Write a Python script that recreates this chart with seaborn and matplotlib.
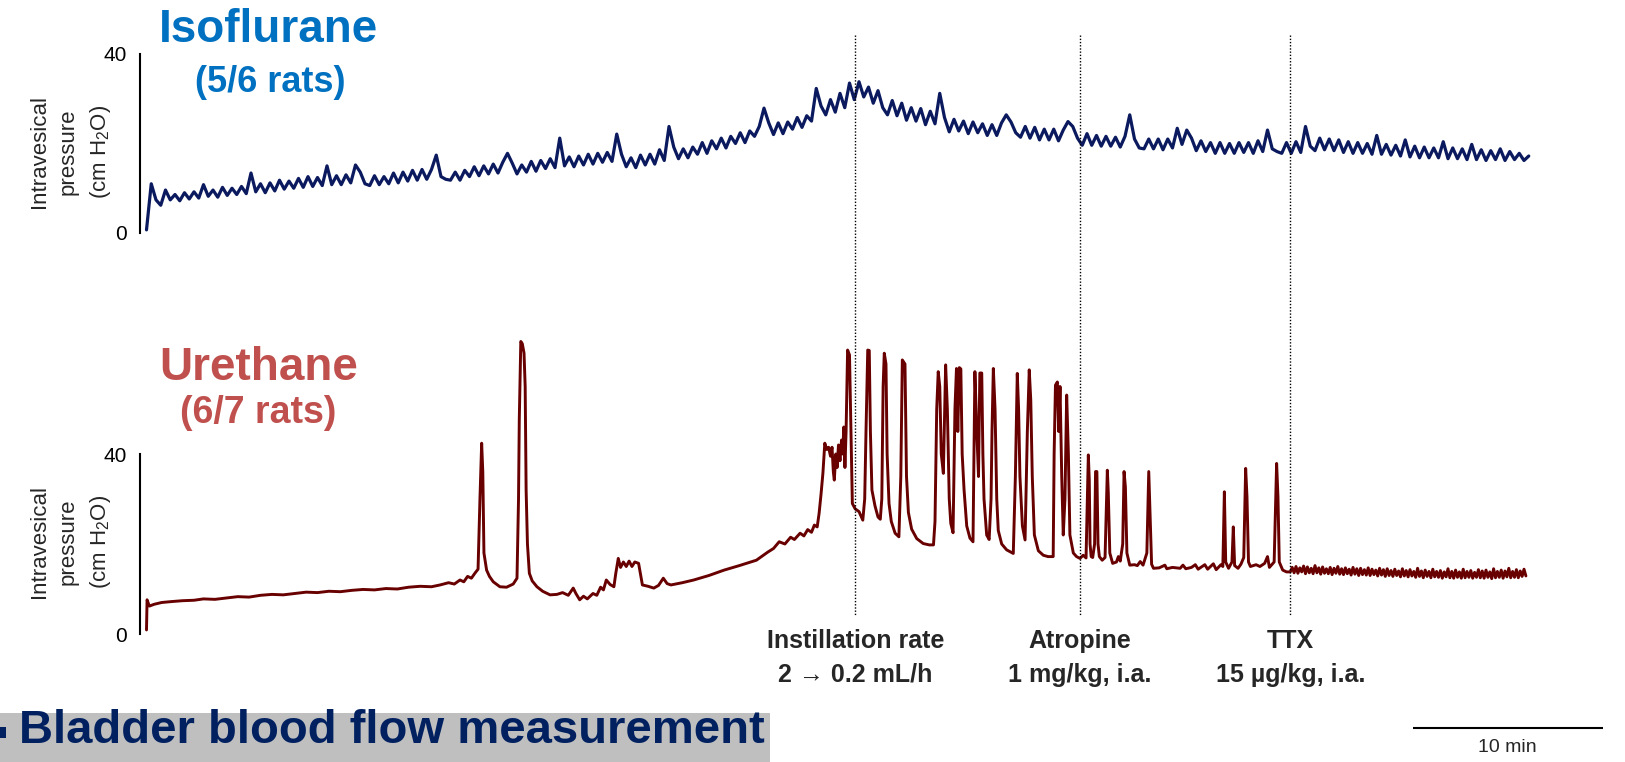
import numpy as np
import pandas as pd
import matplotlib
matplotlib.use("Agg")
import matplotlib.pyplot as plt
import matplotlib.transforms as mtransforms
from matplotlib.patches import Rectangle
from matplotlib.lines import Line2D
import seaborn as sns

# ---------------- data ----------------
# Isoflurane trace: intravesical pressure (cm H2O), one sample every 0.25 min
iso_step_min = 0.25
iso_pressure = [
    0.7, 11.0, 7.4, 6.2,    9.6, 7.4, 8.6, 7.2,    9.0, 7.6, 9.2, 7.8,    10.8, 8.2, 9.6, 8.0,
    10.2, 8.4, 10.0, 8.6,   10.4, 8.8, 13.4, 9.2,  11.0, 9.0, 11.2, 9.4,  11.8, 9.8, 11.6, 10.0,
    12.2, 10.2, 12.6, 10.4, 12.4, 10.6, 15.0, 10.8, 12.8, 10.8, 13.0, 11.2, 15.2, 13.6, 11.0, 10.6,
    12.8, 10.8, 12.6, 11.0, 13.4, 11.2, 13.6, 11.6, 14.0, 11.8, 14.2, 12.0, 14.2, 17.4, 12.6, 12.0,
    11.8, 13.6, 11.8, 14.0, 12.6, 14.8, 12.8, 15.0, 13.2, 15.4, 13.4, 15.8, 17.8, 15.6, 13.2, 15.2,
    13.6, 16.0, 13.8, 16.2, 14.4, 16.6, 14.6, 21.2, 15.0, 17.0, 14.8, 17.2, 15.2, 17.6, 15.4, 17.8,
    15.8, 18.0, 16.0, 22.1, 17.6, 14.8, 16.8, 14.6, 17.4, 15.2, 17.6, 15.4, 18.6, 16.2, 23.8, 19.2,
    16.6, 18.8, 16.8, 19.2, 17.6, 20.2, 17.8, 20.6, 18.8, 21.2, 19.0, 21.6, 20.0, 22.4, 20.2, 22.8,
    21.6, 23.8, 27.9, 24.6, 22.0, 24.6, 22.2, 24.8, 23.2, 25.8, 23.6, 26.2, 25.0, 32.3, 28.4, 26.4,
    29.8, 27.0, 31.2, 28.0, 33.5, 29.8, 33.8, 30.4, 32.6, 29.0, 31.8, 28.0, 26.4, 29.6, 26.2, 29.0,
    25.2, 28.0, 25.0, 27.8, 24.2, 27.2, 24.4, 31.2, 25.8, 22.6, 25.4, 22.8, 25.0, 22.2, 24.8, 22.4,
    24.4, 21.8, 24.2, 21.8, 24.6, 26.4, 24.8, 22.4, 21.4, 23.8, 21.2, 23.6, 20.8, 23.2, 20.8, 23.2,
    20.6, 23.0, 24.9, 23.8, 21.2, 19.6, 22.2, 19.6, 21.8, 19.4, 21.6, 19.4, 21.4, 19.2, 21.6, 26.4,
    21.0, 19.0, 18.8, 21.0, 18.8, 21.0, 18.6, 21.0, 19.0, 23.4, 19.8, 23.0, 21.2, 18.4, 20.6, 18.2,
    20.2, 17.8, 20.2, 17.8, 20.0, 17.8, 20.2, 18.0, 20.2, 17.8, 20.6, 18.2, 23.0, 18.8, 18.2, 17.8,
    20.2, 17.8, 20.4, 18.0, 23.8, 19.4, 18.4, 21.2, 18.6, 21.0, 18.4, 20.8, 18.0, 20.4, 17.8, 20.2,
    17.8, 20.0, 17.6, 21.8, 17.6, 19.8, 17.4, 19.6, 17.2, 20.8, 17.0, 19.4, 16.8, 19.2, 16.8, 19.0,
    16.8, 20.4, 16.6, 19.0, 16.6, 18.8, 16.4, 19.8, 16.4, 18.6, 16.2, 18.4, 16.4, 18.8, 16.2, 18.2,
    16.4, 17.8, 16.2, 17.2,
]

# Urethane trace, (time in min, pressure in cm H2O)
ure_before_points = [
    (0.0, 0.9), (0.03, 7.6), (0.15, 6.2), (0.4, 6.6), (0.8, 7.0), (1.3, 7.2), (1.9, 7.4),
    (2.5, 7.5), (3.0, 7.8), (3.6, 7.7), (4.2, 8.0), (4.8, 8.3), (5.4, 8.2), (6.0, 8.6),
    (6.6, 8.8), (7.2, 8.7), (7.8, 9.0), (8.4, 9.3), (9.0, 9.2), (9.6, 9.5), (10.2, 9.4),
    (10.8, 9.7), (11.4, 9.9), (12.0, 9.8), (12.6, 10.1), (13.2, 10.0), (13.8, 10.4),
    (14.4, 10.6), (15.0, 10.5), (15.45, 10.9), (15.9, 11.4), (16.2, 11.1), (16.5, 12.0),
    (16.7, 11.6), (16.9, 12.8), (17.1, 12.4), (17.3, 13.6), (17.45, 14.4),
    (17.55, 30.0), (17.64, 42.4), (17.7, 36.0), (17.76, 18.0), (17.9, 14.2), (18.05, 12.8),
    (18.25, 11.6), (18.6, 10.5), (18.95, 10.4), (19.3, 11.1), (19.5, 12.4),
    (19.58, 30.0), (19.62, 47.6), (19.7, 65.0), (19.78, 64.5), (19.87, 62.4), (19.93, 55.0),
    (19.98, 32.0), (20.05, 20.0), (20.15, 13.5), (20.3, 11.8), (20.55, 10.5), (20.85, 9.5),
    (21.24, 8.7), (21.6, 8.8), (21.9, 9.2), (22.2, 8.6), (22.46, 10.2), (22.6, 9.0),
    (22.8, 7.6), (23.0, 8.4), (23.2, 7.8), (23.5, 9.0), (23.7, 8.6), (23.9, 10.4),
    (24.05, 9.8), (24.2, 12.0), (24.4, 11.0), (24.6, 10.5), (24.7, 13.5), (24.83, 16.8),
    (24.95, 14.8), (25.1, 16.0), (25.25, 15.0), (25.4, 16.2), (25.55, 15.0), (25.7, 16.0),
    (25.9, 15.7), (26.1, 10.9), (26.4, 10.6), (26.7, 10.2), (26.95, 10.8), (27.2, 12.4),
    (27.4, 11.2), (27.6, 10.9), (28.2, 11.4), (28.8, 12.0), (29.6, 13.0), (30.4, 14.2),
    (31.2, 15.2), (32.1, 16.4), (32.7, 18.2), (33.0, 19.0), (33.3, 20.5), (33.6, 20.0),
    (33.9, 21.5), (34.1, 21.0), (34.4, 22.4), (34.6, 21.8), (34.8, 23.2), (35.0, 22.6),
    (35.15, 24.2), (35.3, 23.8), (35.4, 26.8), (35.5, 31.0), (35.6, 35.7), (35.7, 42.4),
    (35.8, 41.0), (35.9, 41.5), (36.0, 39.5), (36.08, 41.5), (36.15, 36.0), (36.2, 34.2),
    (36.28, 40.0), (36.35, 37.0), (36.42, 42.0), (36.5, 38.5), (36.58, 43.1), (36.64, 40.0),
    (36.7, 46.0), (36.76, 37.0), (36.82, 45.0),
]
ure_instillation_points = [
    (36.9, 63.1), (37.0, 62.0), (37.08, 45.0), (37.15, 29.0), (37.3, 27.8), (37.5, 27.2),
    (37.7, 25.3), (37.8, 30.0), (37.87, 45.3), (37.96, 63.1), (38.04, 63.0), (38.1, 45.0),
    (38.18, 32.0), (38.34, 28.5), (38.5, 26.0), (38.62, 25.5), (38.7, 30.0), (38.77, 55.0),
    (38.83, 62.4), (38.92, 60.0), (38.98, 40.0), (39.08, 29.0), (39.2, 25.0), (39.4, 22.4),
    (39.6, 21.6), (39.7, 35.0), (39.78, 60.9), (39.92, 60.0), (40.0, 35.0), (40.1, 27.0),
    (40.27, 23.3), (40.54, 21.2), (40.88, 20.1), (41.2, 19.8), (41.42, 19.8), (41.5, 25.0),
    (41.59, 50.0), (41.67, 58.3), (41.75, 55.0), (41.83, 40.0), (41.94, 35.7), (42.06, 59.8),
    (42.15, 50.0), (42.25, 30.0), (42.33, 24.6), (42.45, 22.5), (42.55, 50.0), (42.63, 59.0),
    (42.7, 45.0), (42.78, 59.2), (42.86, 58.9), (42.93, 40.0), (43.03, 32.0), (43.17, 24.0),
    (43.34, 21.3), (43.5, 20.5), (43.6, 58.3), (43.7, 45.0), (43.79, 35.0), (43.86, 58.0),
    (43.96, 58.0), (44.02, 40.0), (44.08, 30.0), (44.22, 22.0), (44.35, 21.0), (44.45, 30.0),
    (44.5, 45.0), (44.57, 59.0), (44.66, 50.0), (44.75, 30.0), (44.83, 23.0), (45.01, 20.0),
    (45.27, 18.7), (45.62, 17.9), (45.73, 35.0), (45.83, 57.9), (45.9, 50.0), (45.97, 35.0),
    (46.1, 24.0), (46.24, 20.9), (46.36, 45.0), (46.46, 58.7), (46.54, 52.0), (46.62, 35.0),
    (46.73, 22.0), (46.94, 18.5), (47.2, 17.5), (47.45, 17.2), (47.72, 17.2), (47.77, 40.0),
    (47.84, 55.3), (47.94, 56.0), (48.01, 45.0), (48.08, 55.0), (48.17, 35.0), (48.25, 22.0),
    (48.34, 30.0), (48.43, 53.1), (48.52, 40.0), (48.6, 22.0), (48.78, 18.0), (48.95, 17.2),
    (49.13, 16.8),
]
ure_atropine_points = [
    (49.3, 17.5), (49.45, 16.9), (49.52, 30.0), (49.57, 39.8), (49.62, 34.2), (49.66, 20.0),
    (49.72, 17.2), (49.8, 17.0), (49.9, 20.0), (49.95, 36.1), (50.02, 36.1), (50.08, 20.0),
    (50.15, 17.2), (50.3, 16.4), (50.45, 17.0), (50.52, 28.0), (50.57, 36.4), (50.62, 31.5),
    (50.7, 18.0), (50.85, 15.7), (51.05, 16.0), (51.15, 17.2), (51.25, 16.2), (51.38, 20.0),
    (51.45, 36.1), (51.52, 32.7), (51.6, 18.0), (51.75, 15.3), (52.0, 15.4), (52.15, 15.2),
    (52.3, 16.1), (52.45, 15.3), (52.65, 18.0), (52.75, 36.1), (52.82, 26.4), (52.9, 15.5),
    (53.0, 14.6), (53.3, 14.7), (53.6, 15.3), (53.7, 14.5), (54.0, 14.8), (54.4, 14.6),
    (54.55, 15.3), (54.7, 14.5), (55.0, 14.8), (55.2, 15.4), (55.35, 14.4), (55.7, 15.4),
    (55.85, 14.4), (56.15, 15.6), (56.3, 14.3), (56.55, 15.4), (56.65, 15.0), (56.73, 31.6),
    (56.8, 16.0), (56.95, 14.6), (57.13, 16.0), (57.2, 23.8), (57.27, 15.2), (57.45, 14.6),
    (57.6, 15.5), (57.75, 17.0), (57.85, 36.8), (57.92, 30.5), (58.0, 16.0), (58.1, 15.0),
    (58.4, 15.4), (58.6, 15.0), (58.85, 15.7), (59.0, 17.2), (59.1, 14.8), (59.35, 16.0),
    (59.43, 30.0), (59.48, 37.9), (59.55, 30.5), (59.62, 16.0), (59.8, 14.2), (60.0, 13.8),
    (60.2, 13.8),
]
# Urethane trace after TTX: one sample every 0.1 min
ure_tail_start = 60.3
ure_tail_step = 0.1
ure_tail_pressure = [
    14.8, 13.6, 15.0, 13.5, 14.7, 13.8, 15.1, 13.4, 14.9, 13.6,
    14.6, 13.4, 15.2, 13.6, 14.7, 13.3, 14.9, 13.5, 14.5, 13.4,
    14.8, 13.2, 14.6, 13.5, 15.0, 13.3, 14.5, 13.2, 14.7, 13.4,
    14.4, 13.1, 14.8, 13.3, 14.5, 13.0, 14.6, 13.2, 14.3, 13.1,
    14.7, 13.0, 14.4, 13.2, 14.2, 12.9, 14.6, 13.1, 14.3, 12.8,
    14.5, 13.0, 14.1, 12.8, 14.4, 13.0, 14.0, 12.7, 14.5, 12.9,
    14.1, 12.7, 14.3, 12.9, 13.9, 12.6, 14.6, 12.8, 14.0, 12.5,
    14.2, 12.8, 13.9, 12.5, 14.4, 12.7, 13.9, 12.6, 14.1, 12.4,
    13.8, 12.7, 14.5, 12.5, 13.9, 12.4, 14.2, 12.6, 13.8, 12.4,
    14.4, 12.5, 13.9, 12.6, 14.1, 12.4, 13.7, 12.6, 14.3, 12.5,
    14.0, 12.4, 14.2, 12.6, 13.8, 12.3, 14.5, 12.5, 13.9, 12.6,
    14.2, 12.4, 14.0, 12.7, 14.6, 12.5, 13.9, 12.6, 14.3, 12.5,
    14.0, 12.8, 14.4, 12.9,
]

event_times = [37.3, 49.13, 60.2]
event_titles = ["Instillation rate", "Atropine", "TTX"]
event_doses = ["2 \u2192 0.2 mL/h", "1 mg/kg, i.a.", "15 \u00b5g/kg, i.a."]
y_ticks = [0, 40]
y_tick_labels = ["0", "40"]
scale_bar_min = 10
scale_bar_start = 66.64

# ---------------- style ----------------
sns.set_style("white")
plt.rcParams["font.family"] = ["Liberation Sans", "DejaVu Sans"]
plt.rcParams["mathtext.fontset"] = "custom"
plt.rcParams["mathtext.rm"] = "Liberation Sans"
plt.rcParams["mathtext.it"] = "Liberation Sans:italic"

W, H = 1625, 762


def fx(px):
    return px / W


def fy(py):
    return 1 - py / H


fig = plt.figure(figsize=(W / 100, H / 100), dpi=100)
fig.patch.set_facecolor("white")

left, width = fx(140), 1400 / W
ax_top = fig.add_axes([left, fy(237.475), width, (237.475 - 49.5) / H])
ax_bot = fig.add_axes([left, fy(638.5), width, (638.5 - 332.5) / H])

iso_df = pd.DataFrame({
    "time": np.arange(len(iso_pressure)) * iso_step_min,
    "pressure": iso_pressure,
})
ure_pts = ure_before_points + ure_instillation_points + ure_atropine_points
ure_df = pd.DataFrame({
    "time": [p[0] for p in ure_pts]
    + list(ure_tail_start + np.arange(len(ure_tail_pressure)) * ure_tail_step),
    "pressure": [p[1] for p in ure_pts] + list(ure_tail_pressure),
})

sns.lineplot(data=iso_df, x="time", y="pressure", ax=ax_top, color="#0B1A5E",
             linewidth=2.3, estimator=None, sort=False)
sns.lineplot(data=ure_df, x="time", y="pressure", ax=ax_bot, color="#680000",
             linewidth=2.1, estimator=None, sort=False)

xlim = (-0.342, 73.342)
for ax, ylim in ((ax_top, (-1, 41)), (ax_bot, (-1, 67))):
    ax.set_xlim(*xlim)
    ax.set_ylim(*ylim)
    ax.patch.set_alpha(0)
    for s in ("top", "right", "bottom"):
        ax.spines[s].set_visible(False)
    ax.spines["left"].set_bounds(0, 40)
    ax.spines["left"].set_linewidth(1.5)
    ax.spines["left"].set_color("black")
    ax.set_xticks([])
    ax.set_yticks(y_ticks)
    ax.set_yticklabels(y_tick_labels)
    ax.tick_params(axis="y", length=0, pad=9.5, labelsize=15, labelcolor="black")
    ax.set_xlabel("")
    ax.set_ylabel("")
    for ln in ax.lines:
        ln.set_clip_on(False)
        ln.set_solid_joinstyle("round")

# y-axis titles
ylab = "Intravesical\npressure\n(cm H$_2$O)"
fig.text(fx(71), fy(152), ylab, rotation=90, ha="center", va="center",
         multialignment="center", fontsize=16, linespacing=1.5)
fig.text(fx(71), fy(542), ylab, rotation=90, ha="center", va="center",
         multialignment="center", fontsize=16, linespacing=1.5)

# panel titles
fig.text(fx(268), fy(41.5), "Isoflurane", ha="center", va="baseline",
         fontsize=33, fontweight="bold", color="#0070C0")
fig.text(fx(270.5), fy(91.5), "(5/6 rats)", ha="center", va="baseline",
         fontsize=26, fontweight="bold", color="#0070C0")
fig.text(fx(259), fy(380), "Urethane", ha="center", va="baseline",
         fontsize=33, fontweight="bold", color="#C0504D")
fig.text(fx(258), fy(423), "(6/7 rats)", ha="center", va="baseline",
         fontsize=27, fontweight="bold", color="#C0504D")

# event markers
trans = mtransforms.blended_transform_factory(ax_bot.transData, fig.transFigure)
for t, title, dose in zip(event_times, event_titles, event_doses):
    fig.add_artist(Line2D([t, t], [fy(35), fy(615)], transform=trans, color="black",
                          linewidth=1.0, linestyle=(0, (1, 1.3))))
    fig.text(t, fy(648), title, transform=trans, ha="center", va="baseline",
             fontsize=18, fontweight="bold")
    fig.text(t, fy(682), dose, transform=trans, ha="center", va="baseline",
             fontsize=18, fontweight="bold")

# time scale bar
fig.add_artist(Line2D([scale_bar_start, scale_bar_start + scale_bar_min], [fy(728), fy(728)],
                      transform=trans, color="black", linewidth=1.5, solid_capstyle="butt"))
fig.text(scale_bar_start + scale_bar_min / 2, fy(752), f"{scale_bar_min} min", transform=trans,
         ha="center", va="baseline", fontsize=14)

# section banner
fig.add_artist(Rectangle((0, fy(762)), fx(770), (762 - 713) / H, transform=fig.transFigure,
                         facecolor="#BFBFBF", edgecolor="none"))
fig.add_artist(Rectangle((0, fy(738)), fx(6), 11 / H, transform=fig.transFigure,
                         facecolor="#002060", edgecolor="none"))
fig.text(fx(19), fy(743), "Bladder blood flow measurement", ha="left", va="baseline",
         fontsize=34, fontweight="bold", color="#002060")

fig.savefig("out.png", dpi=100)
